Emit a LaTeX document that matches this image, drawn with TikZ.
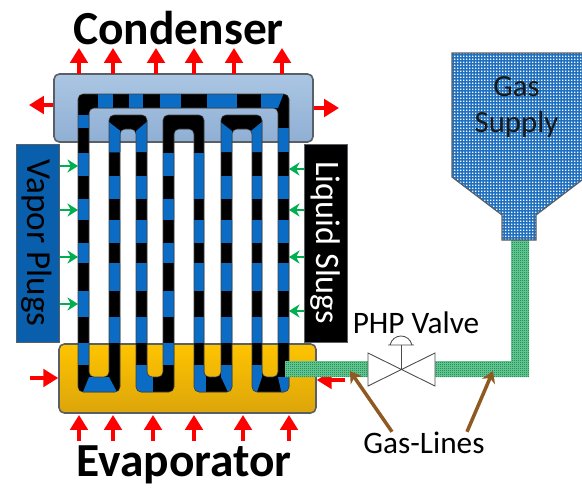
\documentclass[tikz,border=0pt]{standalone}
\usepackage{fontspec}
\setmainfont{Carlito}
\usepackage{xcolor}
\usetikzlibrary{arrows.meta,patterns,shapes}
\definecolor{slugblue}{HTML}{0A6CC4}
\definecolor{gasblue}{HTML}{1F70BE}
\definecolor{gasgreen}{HTML}{22A862}
\definecolor{heatred}{HTML}{FF0000}
\definecolor{finsgreen}{HTML}{00B050}
\definecolor{leadbrown}{HTML}{8F5A22}
\definecolor{edgegray}{HTML}{5A5F66}
\definecolor{condtop}{HTML}{ABC6E3}
\definecolor{condbot}{HTML}{8FAFD4}
\definecolor{evaptop}{HTML}{FFC400}
\definecolor{evapbot}{HTML}{DCA50A}
\pgfdeclarepatternformonly{gasdots}{\pgfqpoint{0pt}{0pt}}{\pgfqpoint{1.701pt}{1.701pt}}{\pgfqpoint{1.701pt}{1.701pt}}{\pgfpathrectangle{\pgfqpoint{0pt}{0pt}}{\pgfqpoint{0.75pt}{0.75pt}}\pgfusepath{fill}}
\pgfdeclarepatternformonly{linedots}{\pgfqpoint{0pt}{0pt}}{\pgfqpoint{1.134pt}{1.134pt}}{\pgfqpoint{1.134pt}{1.134pt}}{\pgfpathrectangle{\pgfqpoint{0pt}{0pt}}{\pgfqpoint{0.567pt}{0.567pt}}\pgfusepath{fill}}
\newcommand{\pipeloop}{[rounded corners=1mm]
(78,94)--(289,94)--(289,392)--(252,392)--(252,129)--(232,129)--(232,392)--(194,392)--(194,129)--(174,129)--(174,392)--(136,392)--(136,129)--(120,129)--(120,392)--(78,392)--cycle
(89,108)--(278,108)--(278,377)--(262,377)--(262,115)--(221,115)--(221,377)--(204,377)--(204,115)--(163,115)--(163,377)--(147,377)--(147,115)--(109,115)--(109,377)--(89,377)--cycle}
\newcommand{\plugs}[3]{\foreach \a/\b in {#3}\fill[slugblue](#1,\a)rectangle(#2,\b);}
\tikzset{
heat/.style={-{Triangle[length=8.5pt,width=10pt]},heatred,line width=1.9pt},
fin/.style={-{Stealth[length=6pt,width=7.5pt]},finsgreen,line width=1.1pt},
leadline/.style={-{Stealth[length=6.5pt,width=8pt]},leadbrown,line width=2pt},
plate/.style={draw=edgegray,line width=0.9pt,rounded corners=3pt,inner sep=0pt},
legend/.style={draw=edgegray,line width=0.7pt,inner sep=0pt,minimum width=0.86cm,minimum height=3.96cm},
title/.style={font=\fontsize{27}{28}\selectfont\bfseries,inner sep=0pt},
tag/.style={font=\fontsize{17.8}{20}\selectfont,inner sep=0pt}
}
\begin{document}
\begin{tikzpicture}[x=0.02cm,y=-0.02cm]
\useasboundingbox (0,0) rectangle (582,488);
\node[title] (condensertitle) at (178.5,28) {Condenser};
\node[title] (evaporatortitle) at (184,465) {Evaporator};
\node[legend,fill=slugblue!88!black,text=black] (vaporbox) at (38,243.5) {};
\node[rotate=-90,font=\fontsize{20}{20}\selectfont,inner sep=0pt] (vaporlabel) at (37,243) {Vapor Plugs};
\node[legend,fill=black] (liquidbox) at (326,243.5) {};
\node[rotate=-90,text=white,font=\fontsize{19.5}{20}\selectfont,inner sep=0pt] (liquidlabel) at (325,243) {Liquid Slugs};
\node[plate,top color=condtop,bottom color=condbot,minimum width=5.18cm,minimum height=1.36cm] (condenser) at (183.5,108) {};
\node[plate,top color=evaptop,bottom color=evapbot,minimum width=5.14cm,minimum height=1.38cm] (evaporator) at (187.5,378.5) {};
\foreach \x in {79,113,156,194,234,282}
\draw[heat](\x,74)--(\x,48);
\foreach \x in {79,113,153,194,243,289}
\draw[heat](\x,441)--(\x,415);
\draw[heat](condenser.west|-0,105)--(29,105);
\draw[heat](condenser.east|-0,108)--(339,108);
\draw[heat](30,378)--(evaporator.west|-0,378);
\draw[heat](345,380)--(evaporator.east|-0,380);
\foreach \y in {166,210,257,304}
\draw[fin](vaporbox.east|-0,\y)--(78,\y);
\foreach \y in {169,210,257,311}
\draw[fin](liquidbox.west|-0,\y)--(289,\y);
\fill[black,even odd rule]\pipeloop;
\begin{scope}[even odd rule]
\clip\pipeloop;
\foreach \a/\b in {98/113,129/143,160/181,207/237}\fill[slugblue](\a,90)rectangle(\b,110);
\fill[slugblue](261,90)--(285,90)--(278,108)--(261,108)--cycle;
\plugs{75}{92}{115/128,153/176,199/220,243/263,291/317,343/365}
\plugs{275}{292}{128/152,176/199,220/243,263/291,317/343}
\plugs{160}{176}{153/176,199/220,243/263,291/317,343/365}
\plugs{190}{206}{153/199,220/243,263/291,317/343,365/395}
\foreach \x in {109,136,221,252}
\plugs{\x-2}{\x+12}{176/199,220/243,263/291,317/343}
\fill[slugblue](106,120)--(120,131)--(120,152)--(106,152)--cycle;
\fill[slugblue](149,120)--(136,131)--(136,152)--(149,152)--cycle;
\fill[slugblue](218,120)--(232,131)--(232,152)--(218,152)--cycle;
\fill[slugblue](264,120)--(251,131)--(251,152)--(264,152)--cycle;
\fill[slugblue](89,377)--(109,377)--(117,392)--(83,392)--cycle;
\fill[slugblue](130,365)rectangle(153,395);
\fill[slugblue](190,365)--(204,365)--(204,377)--(197,392)--(190,392)--cycle;
\fill[slugblue](221,365)--(235,365)--(235,392)--(228,392)--(221,377)--cycle;
\fill[slugblue](249,365)--(262,365)--(262,377)--(257,392)--(249,392)--cycle;
\fill[slugblue](278,377)--(292,377)--(292,395)--(282,395)--cycle;
\end{scope}
\draw[black!75,line width=0.3pt,even odd rule]\pipeloop;
\path[fill=gasgreen!70!white](285,361)rectangle(368,377)(435,361)rectangle(529,377)(511,240)rectangle(529,361);
\path[pattern=linedots,pattern color=gasgreen!90!black](285,361)rectangle(368,377)(435,361)rectangle(529,377)(511,240)rectangle(529,361);
\coordinate (gasleft) at (350,371);
\coordinate (gasright) at (493,371);
\path[fill=gasblue](452,53)--(582,53)--(582,180)--(536,215)--(536,240)--(502,240)--(502,215)--(452,177)--cycle;
\path[pattern=gasdots,pattern color=white](452,53)--(582,53)--(582,180)--(536,215)--(536,240)--(502,240)--(502,215)--(452,177)--cycle;
\draw[edgegray,line width=0.7pt](582,53)--(452,53)--(452,177)--(502,215)--(502,240)--(536,240)--(536,215)--(582,180);
\node[tag,align=center,font=\fontsize{17.5}{20.5}\selectfont,text=black!90] (gaslabel) at (516.5,107) {Gas\\Supply};
\coordinate (valvecentre) at (401,369);
\draw[black!70,line width=0.5pt,fill=white](368,353)--(435,386)--(435,353)--(368,386)--cycle;
\draw[black!70,line width=0.5pt](valvecentre)--(401,345);
\draw[black!70,line width=0.5pt](388,345)--(414,345)(390,345)..controls (393,333) and (409,333)..(412,345);
\node[tag] (valvelabel) at (416,323) {PHP Valve};
\node[tag] (gaslines) at (424,443) {Gas-Lines};
\draw[leadline]([xshift=-0.64cm]gaslines.north)--(gasleft);
\draw[leadline]([xshift=0.86cm]gaslines.north)--(gasright);
\end{tikzpicture}
\end{document}
